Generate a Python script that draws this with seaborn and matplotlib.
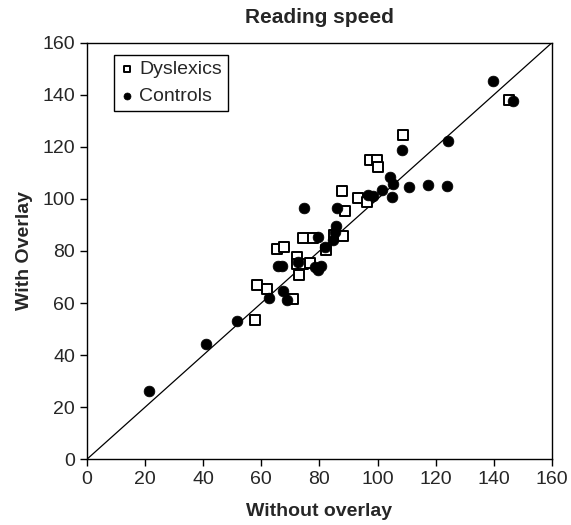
import pandas as pd
import matplotlib
matplotlib.use("Agg")
import matplotlib.pyplot as plt
import seaborn as sns

# reading speed without / with overlay
dyslexic_without = [108.8, 97.4, 99.9, 100.2, 93.2, 96.2, 87.6, 88.9, 85.1, 88.0,
                    82.2, 74.2, 77.7, 65.5, 67.8, 72.4, 72.2, 74.4, 76.7, 73.0,
                    58.6, 61.8, 71.0, 57.8, 145.0]
dyslexic_with = [124.6, 114.9, 114.9, 112.1, 100.4, 98.7, 102.9, 95.2, 86.3, 85.9,
                 80.2, 84.9, 84.9, 80.8, 81.7, 77.6, 74.8, 75.1, 75.3, 70.6,
                 67.0, 65.5, 61.7, 53.6, 137.9]

control_without = [21.4, 41.0, 51.5, 62.7, 67.3, 68.9, 65.7, 67.1, 72.7, 78.5,
                   80.4, 79.6, 79.6, 81.9, 84.5, 85.3, 85.7, 85.9, 74.8, 96.8,
                   98.3, 101.4, 104.3, 105.4, 104.9, 110.9, 117.4, 123.8, 108.5, 124.3,
                   139.5, 146.5]
control_with = [26.2, 44.4, 53.1, 62.1, 64.6, 61.0, 74.4, 74.4, 75.7, 73.8,
                74.2, 72.5, 85.3, 81.7, 84.3, 87.2, 89.4, 96.6, 96.4, 101.6,
                100.9, 103.4, 108.5, 105.7, 100.6, 104.4, 105.5, 104.8, 118.8, 122.3,
                145.1, 137.7]

ticks = [0, 20, 40, 60, 80, 100, 120, 140, 160]

dys = pd.DataFrame({"Without overlay": dyslexic_without, "With Overlay": dyslexic_with})
ctl = pd.DataFrame({"Without overlay": control_without, "With Overlay": control_with})

sns.set_style("ticks")
plt.rcParams["font.family"] = ["Liberation Sans", "DejaVu Sans"]

fig = plt.figure(figsize=(5.71, 5.25), dpi=100)
ax = fig.add_axes([0.152, 0.125, 0.815, 0.794])

ax.axline((0, 0), slope=1, color="black", lw=0.9, zorder=1)

sns.scatterplot(data=dys, x="Without overlay", y="With Overlay", marker="s", s=44,
                facecolor="white", edgecolor="black", linewidth=1.4, label="Dyslexics",
                ax=ax, zorder=3)
sns.scatterplot(data=ctl, x="Without overlay", y="With Overlay", marker="o", s=60,
                color="black", edgecolor="black", linewidth=0.5, label="Controls",
                ax=ax, zorder=4)

ax.set_xlim(0, 160)
ax.set_ylim(0, 160)
ax.set_xticks(ticks)
ax.set_yticks(ticks)
ax.tick_params(labelsize=14, length=5, width=1, color="black", direction="out")
for sp in ax.spines.values():
    sp.set_color("black")
    sp.set_linewidth(1)

ax.set_xlabel("Without overlay", fontsize=14, fontweight="bold", labelpad=11)
ax.set_ylabel("With Overlay", fontsize=14, fontweight="bold", labelpad=7)
ax.set_title("Reading speed", fontsize=15, fontweight="bold", pad=14)

leg = ax.legend(loc="upper left", bbox_to_anchor=(0.058, 0.97), borderaxespad=0,
                fontsize=14, fancybox=False, framealpha=1, edgecolor="black",
                handletextpad=0.2, handlelength=0.8, markerscale=0.65,
                borderpad=0.3, labelspacing=0.45)
leg.get_frame().set_linewidth(1)

fig.savefig("out.png", dpi=100)
